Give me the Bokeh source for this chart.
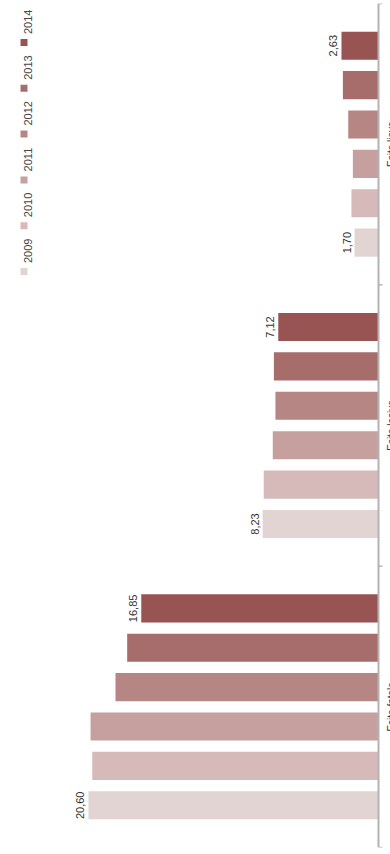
import math
from bokeh.plotting import figure
from bokeh.models import ColumnDataSource, FactorRange, Range1d, Span
from bokeh.transform import dodge
from bokeh.core.properties import value
from bokeh.embed import file_html
from bokeh.resources import INLINE

# ---- data ----
categories = ["Esito fatale", "Esito lesivo", "Esito lieve"]
years = ["2009", "2010", "2011", "2012", "2013", "2014"]
v2009 = [20.60, 8.23, 1.70]
v2010 = [20.33, 8.15, 1.92]
v2011 = [20.45, 7.51, 1.82]
v2012 = [18.68, 7.32, 2.15]
v2013 = [17.85, 7.43, 2.53]
v2014 = [16.85, 7.12, 2.63]
colors = ["#e3d4d4", "#d6baba", "#c5a09f", "#b58684", "#a66d6b", "#975452"]

series = [v2009, v2010, v2011, v2012, v2013, v2014]

def fmt(v):
    return f"{v:.2f}".replace(".", ",")

data = dict(cat=categories)
for y, vals in zip(years, series):
    data[y] = vals
    data["lbl" + y] = [fmt(v) for v in vals]
src = ColumnDataSource(data)

# ---- layout ----
W, H = 390, 854
TOP, BOTTOM = 3, 7
zero_px = 378.0
px_per_unit = 14.08
group_px = (H - TOP - BOTTOM) / len(categories)
FONT = value("Liberation Sans")

p = figure(width=W, height=H,
           x_range=Range1d(start=zero_px / px_per_unit, end=-(W - zero_px) / px_per_unit),
           y_range=FactorRange(factors=categories, range_padding=0),
           output_backend="svg", toolbar_location=None,
           x_axis_location=None, y_axis_location=None,
           min_border=0, min_border_top=TOP, min_border_bottom=BOTTOM,
           outline_line_color=None,
           background_fill_color="white", border_fill_color="white")
p.xgrid.grid_line_color = None
p.ygrid.grid_line_color = None

slot = 0.14
bar_h = 0.1
n = len(years)

for j, (y, c) in enumerate(zip(years, colors)):
    off = (j - (n - 1) / 2) * slot
    p.hbar(y=dodge("cat", off, range=p.y_range), left=0, right=y, height=bar_h,
           source=src, fill_color=c, line_color=None)

# value labels on first and last year
for j in (0, n - 1):
    y = years[j]
    off = (j - (n - 1) / 2) * slot
    p.text(x=y, y=dodge("cat", off, range=p.y_range), text="lbl" + y, source=src,
           angle=math.pi / 2, text_align="center", text_baseline="alphabetic",
           x_offset=-8, text_font=FONT, text_font_size="11px", text_color="#333333")

# axis line and boundary ticks
p.add_layout(Span(location=0, dimension="height", line_color="#b3b3b3", line_width=2))
tick_len = 4 / px_per_unit
p.segment(x0=0, x1=-tick_len, y0=dodge("cat", -0.5, range=p.y_range),
          y1=dodge("cat", -0.5, range=p.y_range), source=src,
          line_color="#b3b3b3", line_width=1.5)
top_src = ColumnDataSource(dict(cat=[categories[-1]]))
p.segment(x0=0, x1=-tick_len, y0=dodge("cat", 0.5, range=p.y_range),
          y1=dodge("cat", 0.5, range=p.y_range), source=top_src,
          line_color="#b3b3b3", line_width=1.5)

# category labels (right of axis, vertical)
p.text(x=0, y="cat", text="cat", source=src, angle=math.pi / 2,
       text_align="center", text_baseline="top", x_offset=7,
       text_font=FONT, text_font_size="10px", text_color="#333333")

# legend (vertical column at top-left, rotated text)
leg_px_x = 23.5                 # frame px from left
leg_px_y0 = 271.0 - TOP         # frame px from top, first item (2009)
leg_px_step = 45.8
top_center_px = group_px / 2
leg_x = (zero_px - leg_px_x) / px_per_unit
leg_offsets = [-(leg_px_y0 - leg_px_step * j - top_center_px) / group_px for j in range(n)]
for j in range(n):
    s = ColumnDataSource(dict(cat=[categories[-1]], x=[leg_x], c=[colors[j]], t=[years[j]]))
    yv = dodge("cat", leg_offsets[j], range=p.y_range)
    p.scatter(x="x", y=yv, marker="square", size=7, fill_color="c", line_color=None, source=s)
    p.text(x="x", y=yv, text="t", source=s, angle=math.pi / 2,
           text_align="left", text_baseline="alphabetic", x_offset=4, y_offset=-8.5,
           text_font=FONT, text_font_size="11px", text_color="#444444")

open("out.html", "w").write(file_html(p, INLINE))
